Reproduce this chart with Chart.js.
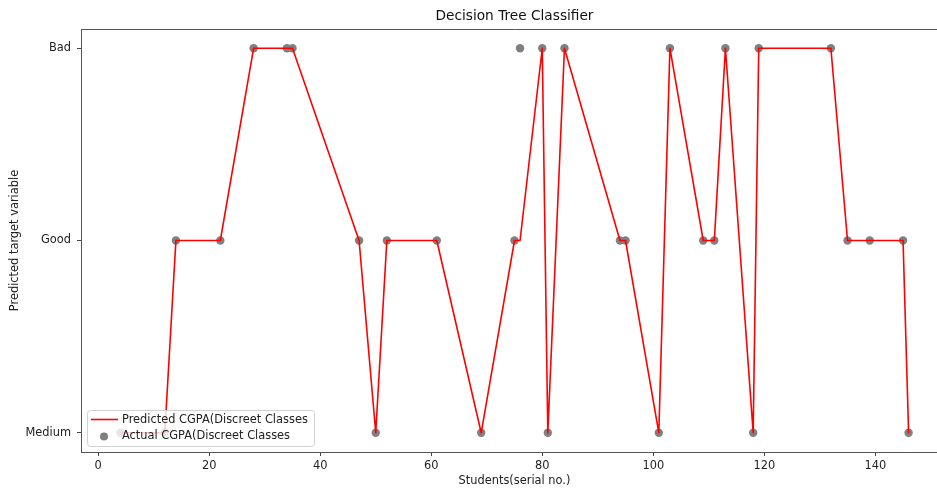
<!DOCTYPE html>
<html>
<head>
<meta charset="utf-8">
<script src="https://cdn.jsdelivr.net/npm/chart.js@4/dist/chart.umd.min.js"></script>
<style>
  html, body { margin: 0; padding: 0; background: #fff; overflow: hidden; }
  #wrap { width: 960px; height: 490px; }
</style>
</head>
<body>
<div id="wrap"><canvas id="chart" width="960" height="490"></canvas></div>
<script>
// class labels, bottom to top
const classes = ['Medium', 'Good', 'Bad'];
const xTicks = [0, 20, 40, 60, 80, 100, 120, 140];

const students = [4, 12, 14, 22, 28, 34, 35, 47, 50, 52, 61, 69, 75, 76, 80, 81, 84, 94, 95, 101, 103, 109, 111, 113, 118, 119, 132, 135, 139, 145, 146];
const predicted = ['Medium', 'Medium', 'Good', 'Good', 'Bad', 'Bad', 'Bad', 'Good', 'Medium', 'Good', 'Good', 'Medium', 'Good', 'Good', 'Bad', 'Medium', 'Bad', 'Good', 'Good', 'Medium', 'Bad', 'Good', 'Good', 'Bad', 'Medium', 'Bad', 'Bad', 'Good', 'Good', 'Good', 'Medium'];
const actual = ['Medium', 'Medium', 'Good', 'Good', 'Bad', 'Bad', 'Bad', 'Good', 'Medium', 'Good', 'Good', 'Medium', 'Good', 'Bad', 'Bad', 'Medium', 'Bad', 'Good', 'Good', 'Medium', 'Bad', 'Good', 'Good', 'Bad', 'Medium', 'Bad', 'Bad', 'Good', 'Good', 'Good', 'Medium'];

const FONT = 'DejaVu Sans';
const TITLE = 'Decision Tree Classifier';

function toPoints(vals) {
    return students.map((s, i) => ({ x: s, y: classes.indexOf(vals[i]) }));
}

// title over the axes, top/right spines, matplotlib style legend in the lower left
const framePlugin = {
    id: 'frame',
    afterDraw(chart) {
        const ctx = chart.ctx;
        const a = chart.chartArea;
        ctx.save();
        ctx.strokeStyle = '#555';
        ctx.lineWidth = 1;
        ctx.beginPath();
        ctx.moveTo(a.left, a.top + 0.5);
        ctx.lineTo(a.right, a.top + 0.5);
        ctx.moveTo(a.right - 0.5, a.top);
        ctx.lineTo(a.right - 0.5, a.bottom);
        ctx.stroke();

        ctx.fillStyle = '#111';
        ctx.font = '13.7px "' + FONT + '"';
        ctx.textAlign = 'center';
        ctx.textBaseline = 'middle';
        ctx.fillText(TITLE, (a.left + a.right) / 2, 16);

        const bx = a.left + 6, by = a.bottom - 42, bw = 227, bh = 36;
        ctx.fillStyle = 'rgba(255,255,255,0.8)';
        ctx.strokeStyle = '#d0d0d0';
        ctx.beginPath();
        ctx.roundRect(bx + 0.5, by + 0.5, bw, bh, 3);
        ctx.fill();
        ctx.stroke();

        const ds = chart.data.datasets;
        ctx.font = '11.4px "' + FONT + '"';
        ctx.textAlign = 'left';
        ctx.fillStyle = '#222';

        ctx.strokeStyle = ds[0].borderColor;
        ctx.lineWidth = 1.6;
        ctx.beginPath();
        ctx.moveTo(bx + 4, by + 9.5);
        ctx.lineTo(bx + 31, by + 9.5);
        ctx.stroke();
        ctx.fillText(ds[0].label, bx + 35, by + 10);

        ctx.fillStyle = ds[1].backgroundColor;
        ctx.beginPath();
        ctx.arc(bx + 17, by + 26.5, 4, 0, Math.PI * 2);
        ctx.fill();
        ctx.fillStyle = '#222';
        ctx.fillText(ds[1].label, bx + 35, by + 26.5);
        ctx.restore();
    }
};

const ctx = document.getElementById('chart').getContext('2d');
const chart = new Chart(ctx, {
    data: {
        datasets: [{
            type: 'line',
            label: 'Predicted CGPA(Discreet Classes',
            data: toPoints(predicted),
            borderColor: '#ff0000',
            borderWidth: 1.6,
            borderJoinStyle: 'round',
            borderCapStyle: 'round',
            pointRadius: 0,
            tension: 0,
            fill: false,
            order: 0
        }, {
            type: 'scatter',
            label: 'Actual CGPA(Discreet Classes',
            data: toPoints(actual),
            backgroundColor: '#808080',
            borderWidth: 0,
            pointRadius: 4.2,
            order: 1
        }]
    },
    options: {
        responsive: false,
        animation: false,
        layout: { padding: { left: 0, right: 12, top: 29, bottom: 0 } },
        plugins: {
            legend: { display: false },
            tooltip: { enabled: false },
            title: { display: false }
        },
        scales: {
            x: {
                type: 'linear',
                min: -3.1,
                max: 153.1,
                afterBuildTicks: s => { s.ticks = xTicks.map(v => ({ value: v })); },
                afterFit: s => { s.height = 38; },
                grid: { drawOnChartArea: false, drawTicks: true, tickLength: 4, color: '#444' },
                border: { display: true, color: '#555', width: 1 },
                ticks: { color: '#222', padding: 3.5, maxRotation: 0, font: { family: FONT, size: 11.4 } },
                title: {
                    display: true,
                    text: 'Students(serial no.)',
                    color: '#222',
                    font: { family: FONT, size: 11.4 },
                    padding: { top: 0, bottom: 2 }
                }
            },
            y: {
                type: 'linear',
                min: -0.1,
                max: 2.1,
                afterBuildTicks: s => { s.ticks = classes.map((c, i) => ({ value: i })); },
                afterFit: s => { s.width = 81; },
                grid: { drawOnChartArea: false, drawTicks: true, tickLength: 4, color: '#444' },
                border: { display: true, color: '#555', width: 1 },
                ticks: {
                    color: '#222',
                    padding: 6,
                    font: { family: FONT, size: 11.4 },
                    callback: v => classes[v]
                },
                title: {
                    display: true,
                    text: 'Predicted target variable',
                    color: '#222',
                    font: { family: FONT, size: 11.4 },
                    padding: { top: 8, bottom: 0 }
                }
            }
        }
    },
    plugins: [framePlugin]
});
</script>
</body>
</html>
